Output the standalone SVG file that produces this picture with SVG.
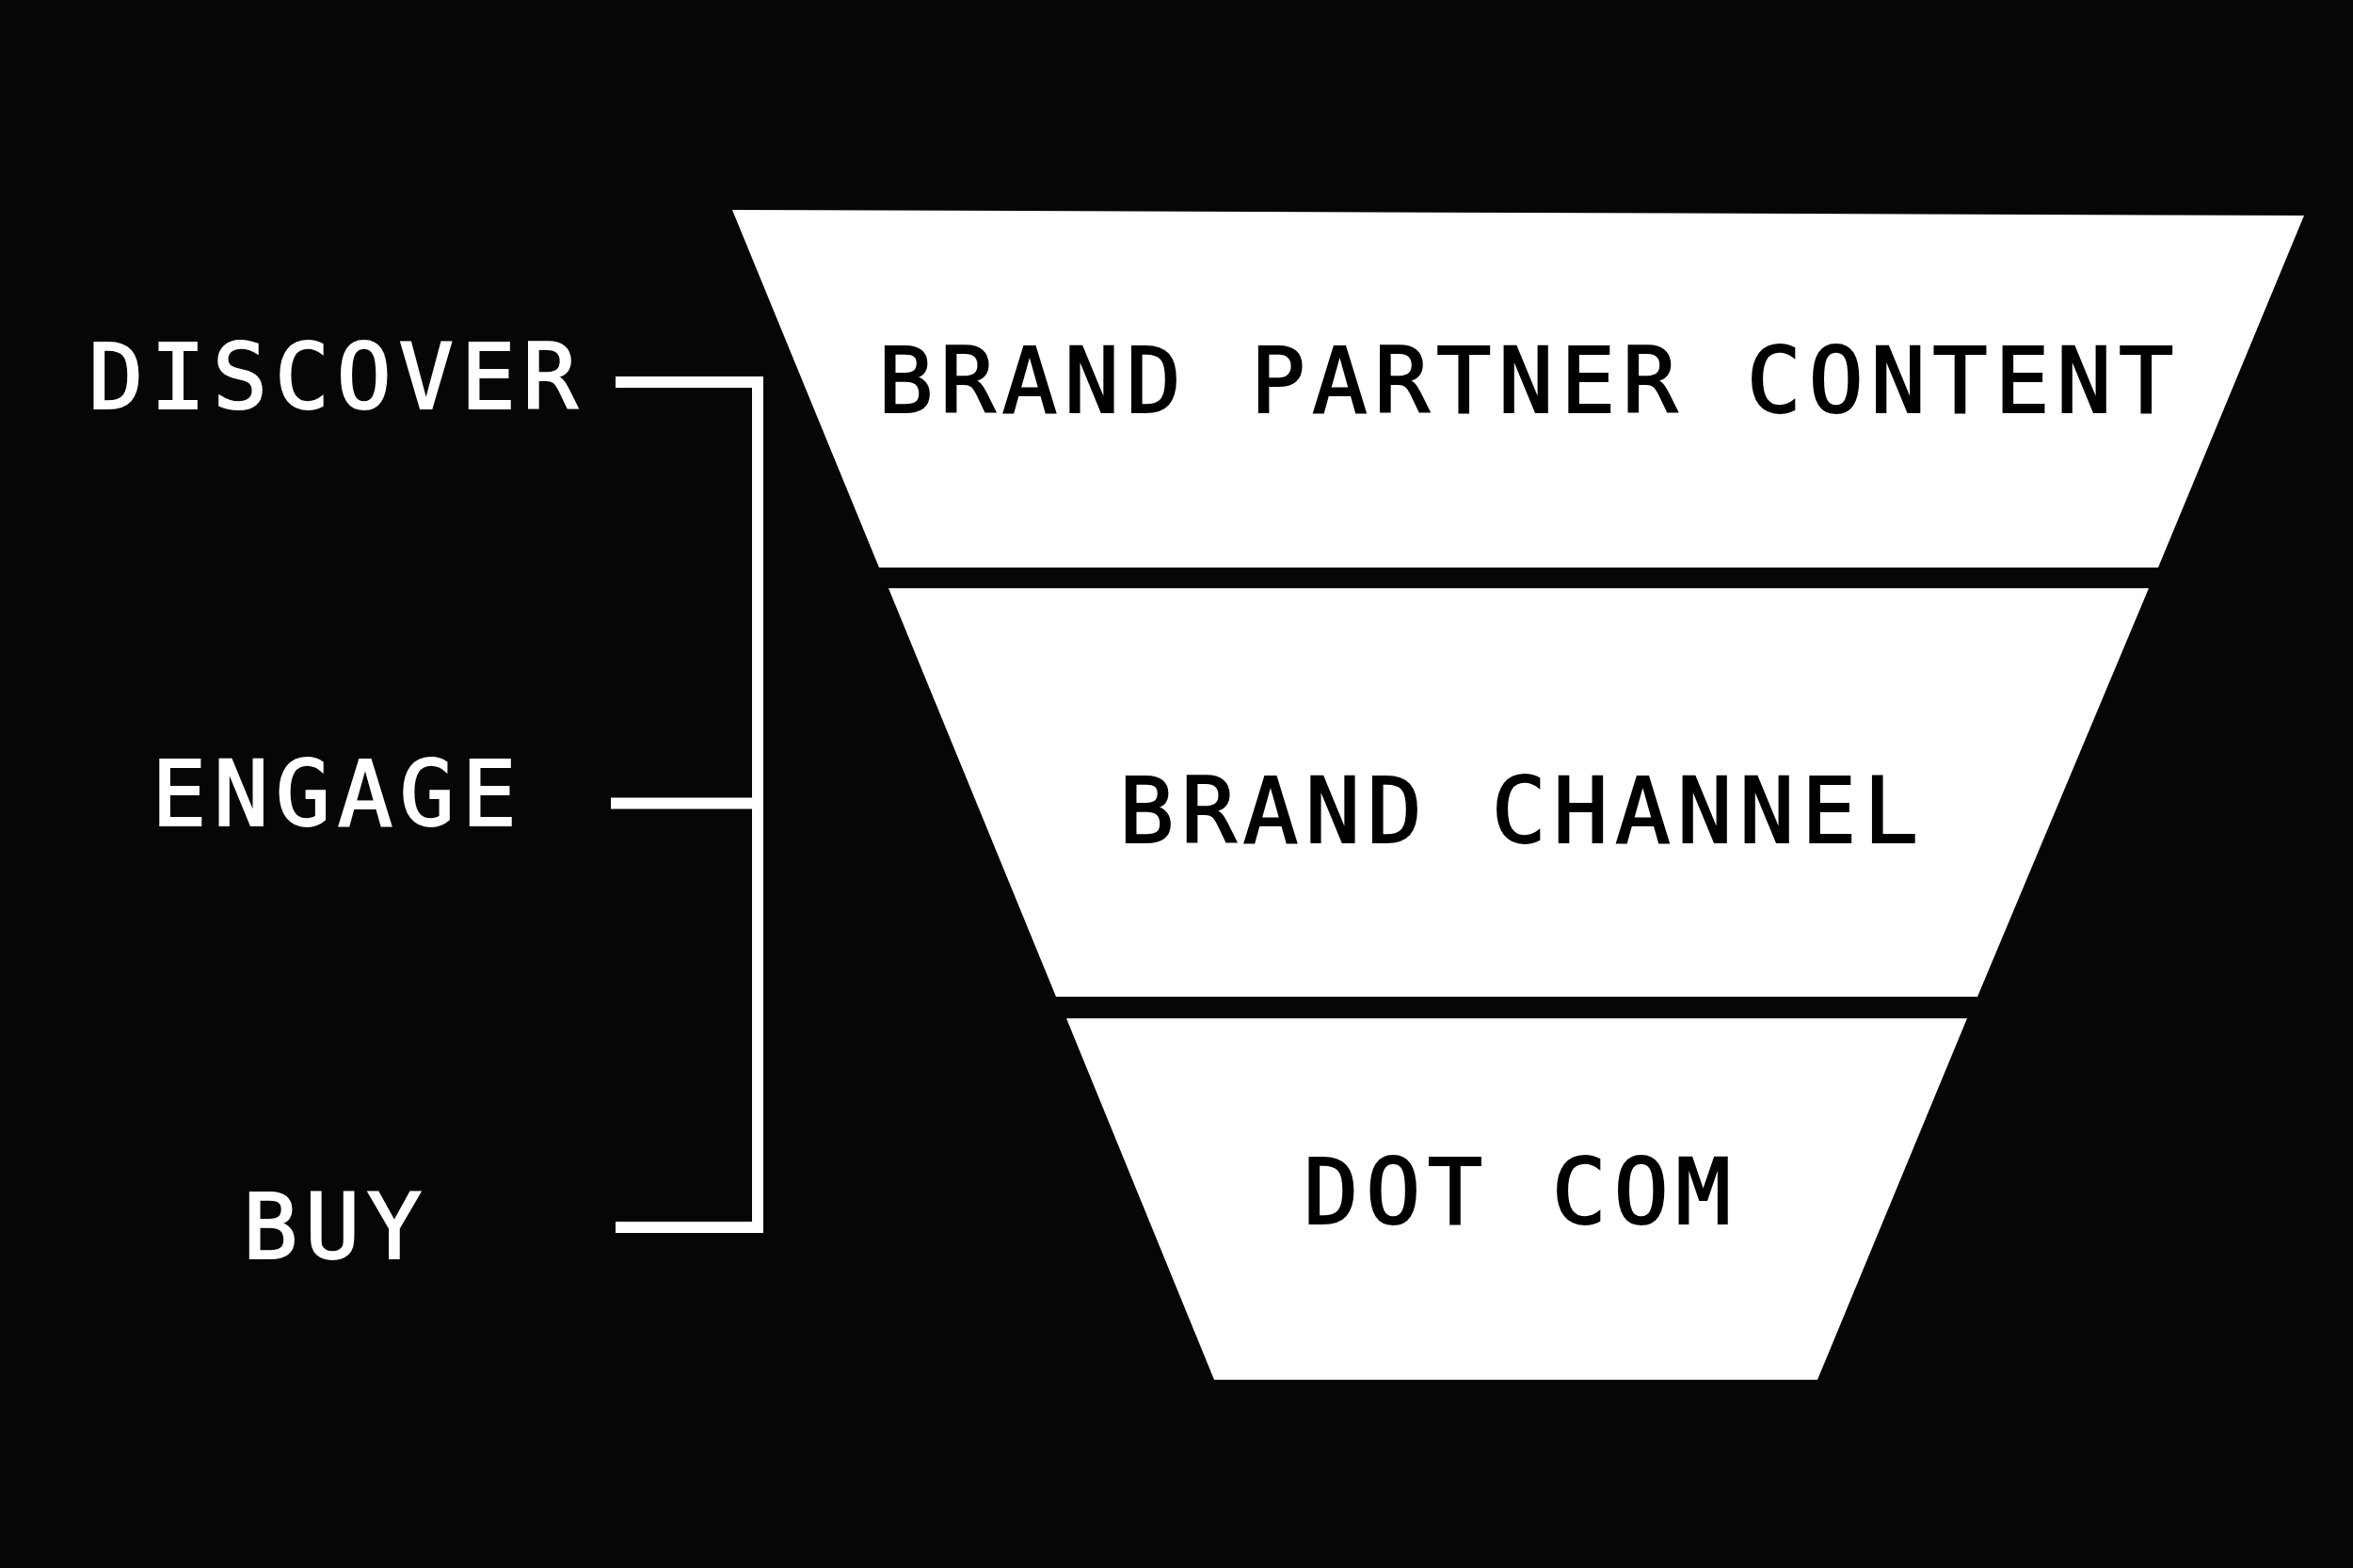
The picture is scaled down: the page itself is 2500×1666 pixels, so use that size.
<svg xmlns="http://www.w3.org/2000/svg" width="2500" height="1666" viewBox="0 0 2500 1666">
  <style>
    .stage { fill: #ffffff; }
    .lbl { font-family: "DejaVu Sans Mono", "Liberation Mono", monospace; font-weight: normal; font-size: 97px; letter-spacing: 7.5px; stroke-width: 2px; stroke-linejoin: miter; }
    .in { fill: #000000; stroke: #000000; }
    .out { fill: #ffffff; stroke: #ffffff; }
    .bracket { fill: none; stroke: #ffffff; stroke-width: 12; stroke-linejoin: miter; stroke-linecap: butt; }
  </style>
  <rect x="0" y="0" width="2500" height="1666" fill="#060606"/>

  <g id="stage-brand-partner-content">
    <polygon class="stage" points="778,223 2448,229 2293,603 934,603"/>
    <text class="lbl in" x="933" y="438">BRAND PARTNER CONTENT</text>
  </g>
  <g id="stage-brand-channel">
    <polygon class="stage" points="944,625 2283,625 2101,1059 1122,1059"/>
    <text class="lbl in" x="1189" y="895">BRAND CHANNEL</text>
  </g>
  <g id="stage-dot-com">
    <polygon class="stage" points="1133,1082 2090,1082 1931,1466 1290,1466"/>
    <text class="lbl in" x="1385" y="1300">DOT COM</text>
  </g>

  <g id="label-discover">
    <text class="lbl out" x="94" y="434">DISCOVER</text>
  </g>
  <g id="label-engage">
    <text class="lbl out" x="161" y="877">ENGAGE</text>
  </g>
  <g id="label-buy">
    <text class="lbl out" x="258" y="1337">BUY</text>
  </g>

  <g id="connectors">
    <path class="bracket" d="M654,406 H805 V1304 H654"/>
    <path class="bracket" d="M649,853.5 H805"/>
  </g>
</svg>
